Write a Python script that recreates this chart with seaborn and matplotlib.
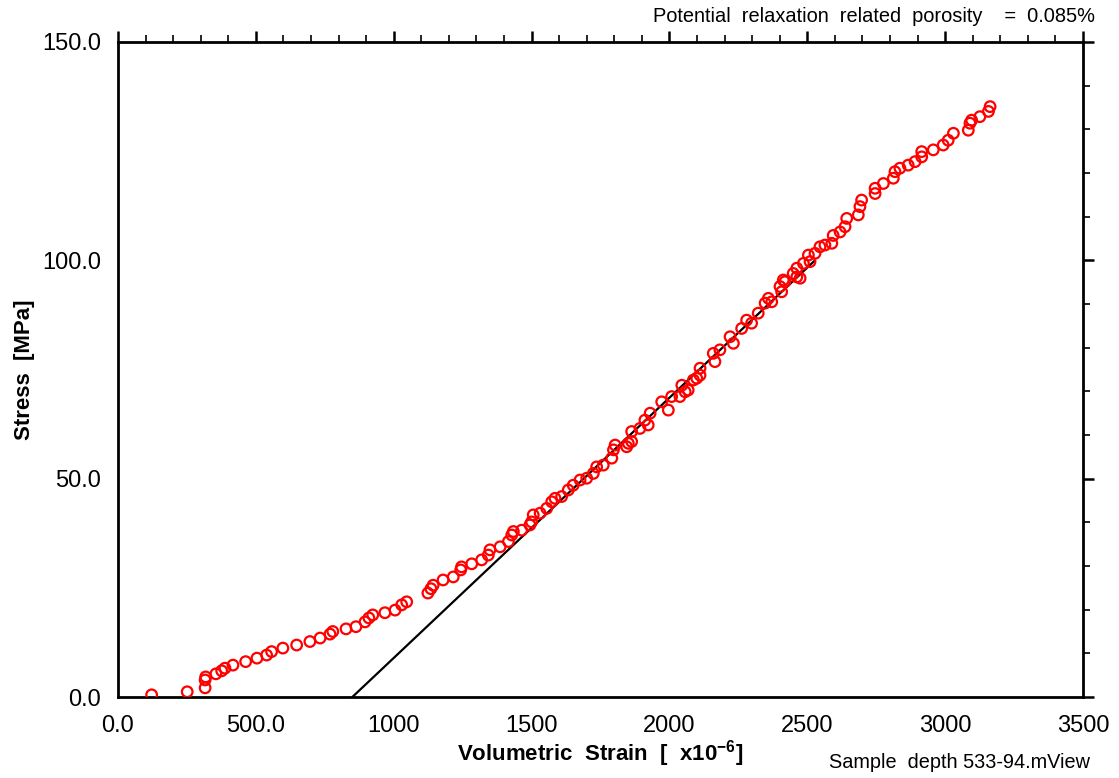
import matplotlib
matplotlib.use("Agg")
import matplotlib.pyplot as plt
import seaborn as sns
import pandas as pd
from matplotlib.ticker import MultipleLocator, FixedLocator

# Volumetric strain (x1e-6) and stress (MPa)
strain = [122, 251, 316, 316, 318, 355, 376, 388, 417, 463, 504, 539, 557, 598, 648,
          696, 733, 769, 779, 827, 863, 896, 910, 924, 968, 1005, 1029, 1047,
          1124, 1135, 1143, 1179, 1216, 1243, 1246, 1283, 1319, 1343, 1349, 1386,
          1416, 1428, 1434, 1464, 1494, 1500, 1506, 1531, 1555, 1573, 1585, 1609,
          1633, 1651, 1676, 1700, 1724, 1736, 1760, 1791, 1797, 1803, 1845, 1851,
          1863, 1863, 1893, 1911, 1923, 1930, 1972, 1996, 2008, 2038, 2045, 2057,
          2068, 2087, 2099, 2111, 2111, 2159, 2165, 2183, 2220, 2232, 2262, 2280,
          2298, 2322, 2347, 2359, 2371, 2401, 2407, 2413, 2419, 2449, 2462, 2462,
          2474, 2486, 2504, 2510, 2528, 2546, 2564, 2589, 2594, 2619, 2637, 2643,
          2685, 2691, 2697, 2746, 2746, 2776, 2812, 2818, 2836, 2866, 2891, 2915,
          2915, 2957, 2993, 3011, 3030, 3084, 3090, 3096, 3126, 3157, 3163]
stress = [0.5, 1.2, 2.1, 3.9, 4.6, 5.3, 6.0, 6.6, 7.3, 8.1, 8.9, 9.6, 10.4, 11.2, 11.9,
          12.7, 13.5, 14.4, 15.0, 15.6, 16.1, 17.2, 18.1, 18.8, 19.3, 19.9, 21.1, 21.8,
          23.8, 24.8, 25.6, 26.8, 27.5, 29.1, 29.8, 30.5, 31.4, 32.5, 33.7, 34.4,
          35.6, 37.1, 37.9, 38.2, 39.4, 40.1, 41.7, 42.1, 43.2, 44.7, 45.5, 45.9,
          47.4, 48.5, 49.7, 50.1, 51.2, 52.7, 53.1, 54.7, 56.6, 57.7, 57.3, 58.1,
          58.5, 60.8, 61.5, 63.4, 62.3, 65.0, 67.6, 65.7, 68.8, 68.8, 71.4, 69.9,
          70.3, 72.6, 73.0, 75.3, 73.7, 78.7, 76.8, 79.5, 82.5, 81.0, 84.4, 86.3,
          85.6, 87.9, 90.2, 91.3, 90.5, 94.0, 92.8, 95.5, 95.1, 97.0, 98.2, 96.2,
          95.9, 99.3, 101.2, 99.7, 101.6, 103.1, 103.5, 103.9, 105.7, 106.5, 107.7, 109.6,
          110.4, 112.3, 113.8, 115.3, 116.5, 117.6, 118.8, 120.3, 121.1, 121.8, 122.6, 123.7,
          124.9, 125.3, 126.4, 127.5, 129.1, 129.8, 131.4, 132.1, 132.9, 134.1, 135.2]

# Linear fit segment
fit_strain = [850, 2528]
fit_stress = [0.0, 100.0]

x_ticks = [0, 500, 1000, 1500, 2000, 2500, 3000, 3500]
x_tick_labels = ["0.0", "500.0", "1000", "1500", "2000", "2500", "3000", "3500"]
y_ticks = [0, 50, 100, 150]
y_tick_labels = ["0.0", "50.0", "100.0", "150.0"]

sns.set_style("white")
plt.rcParams["font.family"] = ["Liberation Sans", "DejaVu Sans"]
plt.rcParams["mathtext.fontset"] = "custom"
plt.rcParams["mathtext.rm"] = "Liberation Sans"
plt.rcParams["mathtext.bf"] = "Liberation Sans:bold"
plt.rcParams["text.color"] = "black"
plt.rcParams["axes.labelcolor"] = "black"
plt.rcParams["xtick.color"] = "black"
plt.rcParams["ytick.color"] = "black"

fig = plt.figure(figsize=(11.19, 7.78), dpi=100)
ax = fig.add_axes([118 / 1119, 1 - 697 / 778, (1083 - 118) / 1119, (697 - 42) / 778])

df = pd.DataFrame({"strain": strain, "stress": stress})
fit_df = pd.DataFrame({"strain": fit_strain, "stress": fit_stress})

sns.lineplot(data=fit_df, x="strain", y="stress", ax=ax, color="black", linewidth=1.6,
             zorder=2)
sns.scatterplot(data=df, x="strain", y="stress", ax=ax, marker="o", s=58,
                facecolors="none", edgecolor="#ff0000", linewidth=1.6, zorder=3)

ax.set_xlim(0, 3500)
ax.set_ylim(0, 150)

ax.xaxis.set_major_locator(FixedLocator(x_ticks))
ax.set_xticklabels(x_tick_labels)
ax.xaxis.set_minor_locator(MultipleLocator(100))
ax.yaxis.set_major_locator(FixedLocator(y_ticks))
ax.set_yticklabels(y_tick_labels)
ax.yaxis.set_minor_locator(MultipleLocator(10))

ax.tick_params(axis="both", which="major", direction="out", length=8, width=1.8,
               labelsize=17, labelcolor="black", color="black", pad=4,
               top=True, right=True, labeltop=False, labelright=False)
ax.tick_params(axis="both", which="minor", direction="out", length=5, width=1.2,
               color="black", top=True, right=True)
ax.tick_params(axis="x", which="major", pad=5)

for sp in ax.spines.values():
    sp.set_visible(True)
    sp.set_linewidth(2.0)
    sp.set_color("black")

ax.set_xlabel(r"Volumetric  Strain  [  x10$^{\mathbf{-6}}$]", fontsize=16,
              fontweight="bold", labelpad=1, color="black")
ax.set_ylabel("Stress  [MPa]", fontsize=16, fontweight="bold", labelpad=5,
              color="black")
ax.grid(False)

fig.text(1095 / 1119, 1 - 17 / 778, "Potential  relaxation  related  porosity    =  0.085%",
         ha="right", va="center", fontsize=14.4, color="black")
fig.text(1090 / 1119, 1 - 763 / 778, "Sample  depth 533-94.mView",
         ha="right", va="center", fontsize=14.3, color="black")

fig.savefig("out.png", dpi=100, facecolor="white")
